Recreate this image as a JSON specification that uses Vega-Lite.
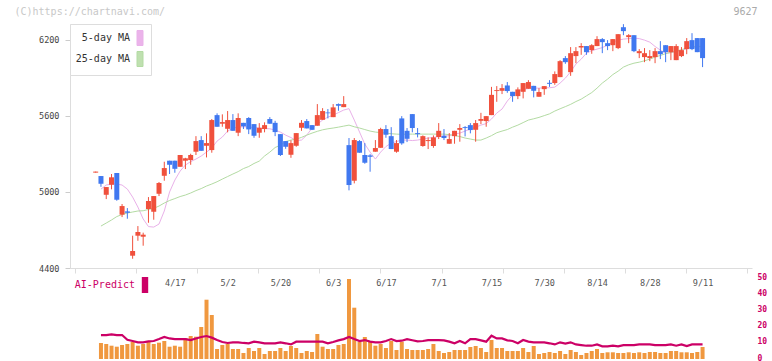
{
"$schema": "https://vega.github.io/schema/vega-lite/v6.json",
"autosize": {"type": "pad"},
"padding": {"left": 14, "top": 6, "right": 0, "bottom": 0},
"background": "white",
"bounds": "flush",
"spacing": 0,
"config": {"view": {"stroke": null}, "font": "DejaVu Sans Mono", "axis": {"labelFont": "DejaVu Sans Mono", "titleFont": "DejaVu Sans Mono"}, "legend": {"labelFont": "DejaVu Sans Mono"}},
"resolve": {"scale": {"color": "independent"}, "legend": {"color": "independent"}},
"data": {"values": [
{"i":0,"o":5153,"h":5161,"l":5153,"c":5161},
{"i":1,"o":5126,"h":5126,"l":5041,"c":5065,"v":160,"ai":14.2,"m5":5023,"m25":4731},
{"i":2,"o":4978,"h":5039,"l":4944,"c":5039,"v":150,"ai":14.2,"m5":5055,"m25":4755},
{"i":3,"o":5057,"h":5142,"l":5021,"c":5116,"v":133,"ai":14.6,"m5":5063,"m25":4779},
{"i":4,"o":5150,"h":5150,"l":4931,"c":4939,"v":123,"ai":14.2,"m5":5063,"m25":4806},
{"i":5,"o":4821,"h":4905,"l":4802,"c":4889,"v":140,"ai":14.2,"m5":5055,"m25":4822},
{"i":6,"o":4847,"h":4873,"l":4789,"c":4836,"v":150,"ai":11.3,"m5":5023,"m25":4834},
{"i":7,"o":4497,"h":4655,"l":4473,"c":4534,"v":170,"ai":10.5,"m5":4960,"m25":4842},
{"i":8,"o":4655,"h":4731,"l":4615,"c":4684,"v":133,"ai":9.7,"m5":4881,"m25":4850},
{"i":9,"o":4647,"h":4679,"l":4576,"c":4663,"v":150,"ai":9.7,"m5":4787,"m25":4852},
{"i":10,"o":4866,"h":4960,"l":4757,"c":4929,"v":170,"ai":10.3,"m5":4727,"m25":4862},
{"i":11,"o":4844,"h":4968,"l":4781,"c":4968,"v":150,"ai":10.5,"m5":4723,"m25":4871},
{"i":12,"o":4986,"h":5079,"l":4968,"c":5071,"v":163,"ai":11.7,"m5":4747,"m25":4889},
{"i":13,"o":5128,"h":5239,"l":5089,"c":5189,"v":180,"ai":13.0,"m5":4850,"m25":4913},
{"i":14,"o":5247,"h":5247,"l":5142,"c":5215,"v":123,"ai":12.1,"m5":5000,"m25":4933},
{"i":15,"o":5247,"h":5247,"l":5152,"c":5183,"v":133,"ai":11.7,"m5":5094,"m25":4948},
{"i":16,"o":5199,"h":5292,"l":5199,"c":5292,"v":123,"ai":11.7,"m5":5165,"m25":4964},
{"i":17,"o":5247,"h":5270,"l":5181,"c":5266,"v":210,"ai":11.7,"m5":5213,"m25":4976},
{"i":18,"o":5252,"h":5302,"l":5215,"c":5292,"v":230,"ai":11.1,"m5":5240,"m25":4992},
{"i":19,"o":5318,"h":5441,"l":5292,"c":5402,"v":223,"ai":12.1,"m5":5260,"m25":5011},
{"i":20,"o":5410,"h":5441,"l":5325,"c":5325,"v":320,"ai":13.0,"m5":5284,"m25":5027},
{"i":21,"o":5365,"h":5463,"l":5273,"c":5386,"v":593,"ai":13.6,"m5":5315,"m25":5047},
{"i":22,"o":5331,"h":5576,"l":5310,"c":5568,"v":440,"ai":12.6,"m5":5347,"m25":5063},
{"i":23,"o":5607,"h":5621,"l":5515,"c":5515,"v":100,"ai":11.1,"m5":5402,"m25":5081},
{"i":24,"o":5539,"h":5613,"l":5515,"c":5552,"v":140,"ai":9.9,"m5":5434,"m25":5102},
{"i":25,"o":5499,"h":5639,"l":5471,"c":5568,"v":150,"ai":9.3,"m5":5481,"m25":5122},
{"i":26,"o":5568,"h":5615,"l":5483,"c":5483,"v":100,"ai":9.7,"m5":5505,"m25":5142},
{"i":27,"o":5468,"h":5621,"l":5441,"c":5584,"v":100,"ai":9.7,"m5":5512,"m25":5161},
{"i":28,"o":5546,"h":5546,"l":5497,"c":5518,"v":60,"ai":9.3,"m5":5515,"m25":5185},
{"i":29,"o":5584,"h":5591,"l":5457,"c":5494,"v":110,"ai":9.1,"m5":5512,"m25":5201},
{"i":30,"o":5536,"h":5536,"l":5428,"c":5444,"v":80,"ai":10.1,"m5":5509,"m25":5225},
{"i":31,"o":5468,"h":5544,"l":5428,"c":5507,"v":110,"ai":9.7,"m5":5505,"m25":5244},
{"i":32,"o":5497,"h":5550,"l":5471,"c":5528,"v":50,"ai":9.1,"m5":5501,"m25":5284},
{"i":33,"o":5576,"h":5591,"l":5539,"c":5539,"v":80,"ai":9.1,"m5":5499,"m25":5315},
{"i":34,"o":5546,"h":5562,"l":5441,"c":5473,"v":80,"ai":9.1,"m5":5489,"m25":5351},
{"i":35,"o":5457,"h":5457,"l":5284,"c":5292,"v":110,"ai":9.7,"m5":5473,"m25":5370},
{"i":36,"o":5402,"h":5402,"l":5341,"c":5357,"v":80,"ai":9.1,"m5":5449,"m25":5398},
{"i":37,"o":5294,"h":5408,"l":5270,"c":5386,"v":130,"ai":8.4,"m5":5430,"m25":5410},
{"i":38,"o":5365,"h":5465,"l":5357,"c":5465,"v":110,"ai":10.1,"m5":5406,"m25":5418},
{"i":39,"o":5507,"h":5568,"l":5483,"c":5546,"v":60,"ai":10.1,"m5":5410,"m25":5431},
{"i":40,"o":5560,"h":5576,"l":5502,"c":5502,"v":80,"ai":10.1,"m5":5449,"m25":5449},
{"i":41,"o":5528,"h":5528,"l":5489,"c":5491,"v":70,"ai":10.1,"m5":5505,"m25":5465},
{"i":42,"o":5523,"h":5694,"l":5523,"c":5607,"v":250,"ai":10.1,"m5":5536,"m25":5479},
{"i":43,"o":5570,"h":5662,"l":5570,"c":5639,"v":123,"ai":10.1,"m5":5568,"m25":5491},
{"i":44,"o":5628,"h":5655,"l":5581,"c":5621,"v":100,"ai":9.1,"m5":5591,"m25":5499},
{"i":45,"o":5591,"h":5694,"l":5591,"c":5668,"v":100,"ai":9.9,"m5":5607,"m25":5505},
{"i":46,"o":5694,"h":5699,"l":5641,"c":5681,"v":140,"ai":10.9,"m5":5627,"m25":5512},
{"i":47,"o":5670,"h":5757,"l":5670,"c":5694,"v":150,"ai":11.7,"m5":5647,"m25":5520},
{"i":48,"o":5370,"h":5426,"l":5013,"c":5055,"v":800,"ai":13.0,"m5":5658,"m25":5528},
{"i":49,"o":5089,"h":5426,"l":5068,"c":5410,"v":513,"ai":11.7,"m5":5568,"m25":5515},
{"i":50,"o":5402,"h":5410,"l":5310,"c":5310,"v":170,"ai":10.5,"m5":5473,"m25":5505},
{"i":51,"o":5292,"h":5386,"l":5223,"c":5231,"v":220,"ai":11.1,"m5":5378,"m25":5493},
{"i":52,"o":5289,"h":5299,"l":5160,"c":5278,"v":170,"ai":10.1,"m5":5315,"m25":5481},
{"i":53,"o":5318,"h":5410,"l":5318,"c":5347,"v":133,"ai":9.7,"m5":5260,"m25":5473},
{"i":54,"o":5349,"h":5507,"l":5349,"c":5497,"v":150,"ai":9.7,"m5":5315,"m25":5469},
{"i":55,"o":5497,"h":5528,"l":5428,"c":5452,"v":110,"ai":10.5,"m5":5359,"m25":5465},
{"i":56,"o":5441,"h":5512,"l":5339,"c":5339,"v":180,"ai":11.7,"m5":5386,"m25":5460},
{"i":57,"o":5318,"h":5410,"l":5310,"c":5386,"v":90,"ai":10.5,"m5":5398,"m25":5457},
{"i":58,"o":5581,"h":5599,"l":5373,"c":5384,"v":173,"ai":10.7,"m5":5410,"m25":5455},
{"i":59,"o":5483,"h":5505,"l":5394,"c":5420,"v":100,"ai":11.7,"m5":5410,"m25":5457},
{"i":60,"o":5615,"h":5615,"l":5471,"c":5505,"v":90,"ai":11.0,"m5":5406,"m25":5457},
{"i":61,"o":5465,"h":5505,"l":5431,"c":5457,"v":90,"ai":10.3,"m5":5410,"m25":5457},
{"i":62,"o":5363,"h":5447,"l":5357,"c":5441,"v":90,"ai":10.5,"m5":5418,"m25":5457},
{"i":63,"o":5402,"h":5431,"l":5339,"c":5410,"v":100,"ai":11.1,"m5":5426,"m25":5457},
{"i":64,"o":5363,"h":5447,"l":5349,"c":5431,"v":150,"ai":11.1,"m5":5430,"m25":5457},
{"i":65,"o":5434,"h":5544,"l":5418,"c":5483,"v":80,"ai":11.1,"m5":5438,"m25":5457},
{"i":66,"o":5444,"h":5497,"l":5410,"c":5426,"v":60,"ai":10.9,"m5":5441,"m25":5457},
{"i":67,"o":5381,"h":5465,"l":5381,"c":5418,"v":70,"ai":10.1,"m5":5445,"m25":5453},
{"i":68,"o":5441,"h":5483,"l":5381,"c":5483,"v":90,"ai":9.1,"m5":5457,"m25":5445},
{"i":69,"o":5491,"h":5536,"l":5397,"c":5505,"v":90,"ai":10.5,"m5":5465,"m25":5438},
{"i":70,"o":5512,"h":5520,"l":5439,"c":5505,"v":90,"ai":9.1,"m5":5481,"m25":5426},
{"i":71,"o":5528,"h":5544,"l":5463,"c":5489,"v":120,"ai":11.7,"m5":5497,"m25":5418},
{"i":72,"o":5491,"h":5568,"l":5397,"c":5544,"v":130,"ai":11.7,"m5":5512,"m25":5410},
{"i":73,"o":5562,"h":5625,"l":5536,"c":5576,"v":110,"ai":10.9,"m5":5528,"m25":5410},
{"i":74,"o":5560,"h":5599,"l":5515,"c":5599,"v":70,"ai":10.1,"m5":5540,"m25":5426},
{"i":75,"o":5607,"h":5830,"l":5607,"c":5767,"v":190,"ai":13.8,"m5":5576,"m25":5445},
{"i":76,"o":5797,"h":5836,"l":5712,"c":5804,"v":110,"ai":12.1,"m5":5623,"m25":5468},
{"i":77,"o":5799,"h":5852,"l":5773,"c":5820,"v":110,"ai":12.1,"m5":5655,"m25":5481},
{"i":78,"o":5841,"h":5868,"l":5783,"c":5797,"v":80,"ai":10.9,"m5":5718,"m25":5493},
{"i":79,"o":5791,"h":5791,"l":5712,"c":5757,"v":80,"ai":10.5,"m5":5765,"m25":5512},
{"i":80,"o":5757,"h":5826,"l":5733,"c":5810,"v":80,"ai":9.1,"m5":5797,"m25":5528},
{"i":81,"o":5791,"h":5860,"l":5739,"c":5860,"v":110,"ai":11.1,"m5":5812,"m25":5548},
{"i":82,"o":5815,"h":5883,"l":5815,"c":5868,"v":70,"ai":10.1,"m5":5816,"m25":5568},
{"i":83,"o":5838,"h":5838,"l":5747,"c":5799,"v":130,"ai":9.7,"m5":5820,"m25":5578},
{"i":84,"o":5752,"h":5820,"l":5752,"c":5789,"v":50,"ai":9.7,"m5":5820,"m25":5589},
{"i":85,"o":5812,"h":5836,"l":5767,"c":5836,"v":60,"ai":9.7,"m5":5823,"m25":5603},
{"i":86,"o":5862,"h":5883,"l":5830,"c":5854,"v":70,"ai":9.1,"m5":5823,"m25":5617},
{"i":87,"o":5860,"h":5952,"l":5846,"c":5931,"v":60,"ai":8.4,"m5":5828,"m25":5639},
{"i":88,"o":5907,"h":6041,"l":5907,"c":6033,"v":80,"ai":9.7,"m5":5860,"m25":5657},
{"i":89,"o":6057,"h":6073,"l":6012,"c":6025,"v":50,"ai":8.9,"m5":5899,"m25":5674},
{"i":90,"o":5946,"h":6144,"l":5917,"c":6096,"v":90,"ai":9.7,"m5":5949,"m25":5692},
{"i":91,"o":6073,"h":6144,"l":6017,"c":6112,"v":70,"ai":8.4,"m5":6010,"m25":5714},
{"i":92,"o":6141,"h":6175,"l":6083,"c":6152,"v":40,"ai":8.0,"m5":6049,"m25":5733},
{"i":93,"o":6152,"h":6152,"l":6083,"c":6104,"v":60,"ai":7.6,"m5":6096,"m25":5759},
{"i":94,"o":6120,"h":6167,"l":6091,"c":6159,"v":80,"ai":7.6,"m5":6116,"m25":5785},
{"i":95,"o":6152,"h":6230,"l":6152,"c":6207,"v":100,"ai":8.4,"m5":6128,"m25":5820},
{"i":96,"o":6207,"h":6215,"l":6096,"c":6183,"v":60,"ai":7.2,"m5":6140,"m25":5860},
{"i":97,"o":6175,"h":6199,"l":6120,"c":6152,"v":67,"ai":7.2,"m5":6159,"m25":5891},
{"i":98,"o":6159,"h":6207,"l":6112,"c":6207,"v":67,"ai":7.6,"m5":6183,"m25":5927},
{"i":99,"o":6136,"h":6246,"l":6128,"c":6246,"v":60,"ai":7.2,"m5":6199,"m25":5954},
{"i":100,"o":6301,"h":6325,"l":6238,"c":6270,"v":60,"ai":8.0,"m5":6207,"m25":5986},
{"i":101,"o":6223,"h":6246,"l":6175,"c":6238,"v":67,"ai":8.0,"m5":6211,"m25":6004},
{"i":102,"o":6238,"h":6238,"l":6104,"c":6112,"v":60,"ai":8.0,"m5":6215,"m25":6017},
{"i":103,"o":6096,"h":6128,"l":6057,"c":6112,"v":67,"ai":8.4,"m5":6211,"m25":6025},
{"i":104,"o":6065,"h":6136,"l":6025,"c":6096,"v":60,"ai":8.4,"m5":6199,"m25":6036},
{"i":105,"o":6057,"h":6120,"l":6033,"c":6073,"v":70,"ai":8.4,"m5":6183,"m25":6049},
{"i":106,"o":6065,"h":6136,"l":6017,"c":6112,"v":70,"ai":8.0,"m5":6149,"m25":6065},
{"i":107,"o":6112,"h":6191,"l":6049,"c":6088,"v":60,"ai":8.0,"m5":6120,"m25":6078},
{"i":108,"o":6159,"h":6159,"l":6025,"c":6104,"v":60,"ai":8.0,"m5":6096,"m25":6092},
{"i":109,"o":6104,"h":6152,"l":6041,"c":6152,"v":80,"ai":8.4,"m5":6100,"m25":6102},
{"i":110,"o":6041,"h":6167,"l":6041,"c":6152,"v":80,"ai":7.6,"m5":6108,"m25":6112},
{"i":111,"o":6073,"h":6144,"l":6065,"c":6120,"v":67,"ai":8.4,"m5":6120,"m25":6124},
{"i":112,"o":6128,"h":6215,"l":6088,"c":6191,"v":67,"ai":7.4,"m5":6130,"m25":6136},
{"i":113,"o":6199,"h":6254,"l":6120,"c":6128,"v":60,"ai":8.4,"m5":6144,"m25":6144},
{"i":114,"o":6215,"h":6215,"l":6104,"c":6104,"v":70,"ai":8.4,"m5":6148,"m25":6148},
{"i":115,"o":6215,"h":6215,"l":5986,"c":6057,"v":120,"ai":8.4,"m5":6144,"m25":6152}
]},
"vconcat": [
{
"width": 682, "height": 244,
"encoding": {"x": {"field": "i", "type": "quantitative", "scale": {"domain": [-3.92, 123.42], "nice": false, "zero": false},
  "axis": {"orient": "bottom", "values": [-3.92, 7.656, 19.232, 30.808, 42.384, 53.96, 65.536, 77.112, 88.688, 100.264, 111.84, 123.416], "labels": false, "ticks": true, "tickSize": 5, "tickColor": "#dddddd", "domainColor": "#dddddd", "grid": false,
    "title": "9627", "titleX": 687, "titleY": -252, "titleAlign": "right", "titleAnchor": null, "titleBaseline": "bottom", "titleFontSize": 10, "titleFontWeight": "normal", "titleColor": "#aaaaaa", "titlePadding": 0}}},
"layer": [
 {"mark": {"type": "line", "strokeWidth": 1}, "encoding": {
   "y": {"field": "m5", "type": "quantitative", "scale": {"domain": [4400, 6326.3], "nice": false, "zero": false},
     "axis": {"values": [4400, 5000, 5600, 6200], "format": "d", "tickSize": 5, "tickColor": "#cccccc", "domainColor": "#dddddd", "labelFontSize": 8.5, "labelColor": "#444444", "labelPadding": 6, "grid": false,
       "title": "(C)https://chartnavi.com/", "titleX": -56, "titleY": -8, "titleAngle": 0, "titleAlign": "left", "titleAnchor": null, "titleBaseline": "bottom", "titleFontSize": 10, "titleFontWeight": "normal", "titleColor": "#c8c8c8"}},
   "color": {"datum": "5-day MA", "type": "nominal", "scale": {"domain": ["5-day MA", "25-day MA"], "range": ["#e9b1e9", "#b3dba3"]},
     "legend": {"orient": "none", "legendX": 0, "legendY": 0, "direction": "vertical", "title": null, "padding": 6, "fillColor": "white", "strokeColor": "#dddddd", "cornerRadius": 0,
       "symbolType": "M-0.4,-1H0.4V1H-0.4Z", "symbolSize": 225, "symbolStrokeWidth": 1, "symbolOffset": 56, "labelAlign": "right", "labelOffset": -18, "labelFontSize": 10, "labelColor": "#333333", "rowPadding": 1,
       "encode": {"symbols": {"update": {"fill": {"signal": "datum.value === '5-day MA' ? '#ebb3ea' : '#bfe0b0'"}, "stroke": {"value": "#555555"}, "fillOpacity": {"value": 1}, "strokeWidth": {"value": 1}}}}}}}},
 {"mark": {"type": "line", "strokeWidth": 1}, "encoding": {
   "y": {"field": "m25", "type": "quantitative"},
   "color": {"datum": "25-day MA", "type": "nominal"}}},
 {"mark": {"type": "rule", "strokeWidth": 1}, "encoding": {
   "y": {"field": "l", "type": "quantitative"}, "y2": {"field": "h"},
   "color": {"condition": {"test": "datum.c >= datum.o", "value": "#f0503c"}, "value": "#4078f0"}}},
 {"mark": {"type": "bar", "size": 5}, "encoding": {
   "y": {"field": "o", "type": "quantitative"}, "y2": {"field": "c"},
   "color": {"condition": {"test": "datum.c >= datum.o", "value": "#f0503c"}, "value": "#4078f0"}}}
]
},
{
"width": 682, "height": 91,
"encoding": {"x": {"field": "i", "type": "quantitative", "title": null, "scale": {"domain": [-3.92, 123.42], "nice": false, "zero": false},
  "axis": {"orient": "top", "values": [15, 25, 35, 45, 55, 65, 75, 85, 95, 105, 115],
    "labelExpr": "datum.value==15?'4/17':datum.value==25?'5/2':datum.value==35?'5/20':datum.value==45?'6/3':datum.value==55?'6/17':datum.value==65?'7/1':datum.value==75?'7/15':datum.value==85?'7/30':datum.value==95?'8/14':datum.value==105?'8/28':'9/11'",
    "domain": false, "ticks": false, "tickSize": 0, "labelPadding": -14, "labelBaseline": "middle", "labelFontSize": 8.5, "labelColor": "#555555", "labelFlush": false, "grid": false, "title": null}}},
"layer": [
 {"mark": {"type": "bar", "size": 4, "color": "#f0983f"}, "encoding": {
   "y": {"field": "v", "type": "quantitative", "title": null, "scale": {"domain": [0, 910], "nice": false}, "axis": null}}},
 {"mark": {"type": "line", "strokeWidth": 2.2}, "encoding": {
   "y": {"field": "ai", "type": "quantitative", "title": null, "scale": {"domain": [-0.6, 55.6], "nice": false, "zero": false},
     "axis": {"orient": "right", "values": [0, 10, 20, 30, 40, 50], "domain": false, "ticks": false, "labelPadding": 5, "labelColor": "#cc0066", "labelFontSize": 8, "labelFontWeight": "bold", "grid": false, "title": null}},
   "color": {"datum": "AI-Predict", "type": "nominal", "scale": {"domain": ["AI-Predict"], "range": ["#cc0066"]},
     "legend": {"orient": "none", "legendX": 5, "legendY": 9, "direction": "vertical", "title": null, "padding": 0,
       "symbolType": "M-0.4,-1H0.4V1H-0.4Z", "symbolSize": 256, "symbolStrokeWidth": 0, "symbolOffset": 62, "labelAlign": "right", "labelOffset": -18, "labelFontSize": 10, "labelColor": "#cc0066",
       "encode": {"symbols": {"update": {"fill": {"value": "#cc0066"}, "fillOpacity": {"value": 1}, "stroke": {"value": "#cc0066"}, "strokeWidth": {"value": 0}}}}}}}}
],
"resolve": {"scale": {"y": "independent"}}
}
]
}
